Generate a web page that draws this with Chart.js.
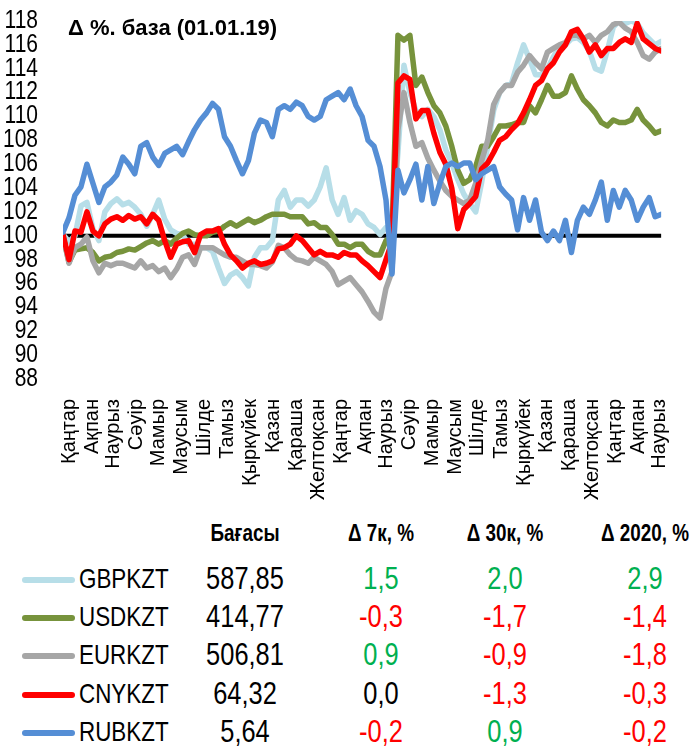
<!DOCTYPE html>
<html>
<head>
<meta charset="utf-8">
<script src="https://cdn.jsdelivr.net/npm/chart.js@4.4.1/dist/chart.umd.min.js"></script>
<style>
body { margin: 0; background: #fff; }
#wrap { position: relative; width: 690px; height: 747px; overflow: hidden; font-family: "Liberation Sans", Arial, sans-serif; }
#fx { position: absolute; left: 0; top: 0; }
#title { position: absolute; left: 68px; top: 15px; font: bold 22px "Liberation Sans", Arial, sans-serif; color: #000; white-space: nowrap; }
.c { position: absolute; white-space: nowrap; transform: translate(-50%, -50%) scaleX(0.82); }
.hd { font-weight: bold; font-size: 23px; color: #000; }
.nm { font-size: 28px; color: #000; transform-origin: left center; transform: translate(0, -50%) scaleX(0.8); }
.num { font-size: 31px; }
.sw { position: absolute; height: 6px; border-radius: 3px; }
</style>
</head>
<body>
<div id="wrap">
  <canvas id="fx" width="690" height="505"></canvas>
  <div id="title">Δ %. база (01.01.19)</div>
</div>
<script>
// ось времени: точка каждые 8 дней с 01.01.2019
const stepDays = 8;
const monthStarts = [0, 31, 59, 90, 120, 151, 181, 212, 243, 273, 304, 334,
  365, 396, 425, 456, 486, 517, 547, 578, 609, 639, 670, 700, 731, 762, 790];
const monthNames = ['Қаңтар', 'Ақпан', 'Наурыз', 'Сәуір', 'Мамыр', 'Маусым', 'Шілде', 'Тамыз',
  'Қыркүйек', 'Қазан', 'Қараша', 'Желтоқсан', 'Қаңтар', 'Ақпан', 'Наурыз', 'Сәуір', 'Мамыр',
  'Маусым', 'Шілде', 'Тамыз', 'Қыркүйек', 'Қазан', 'Қараша', 'Желтоқсан', 'Қаңтар', 'Ақпан', 'Наурыз'];
const yTicks = { min: 88, max: 118, step: 2 };
const baseLevel = 100;

const gbp = [100.1, 99.5, 100.0, 102.5, 102.8, 100.6, 99.6, 102.0, 102.7, 103.1, 102.6, 102.8, 102.4, 101.8, 100.8, 101.8, 103.0, 101.4, 100.5, 100.2,
  100.1, 99.3, 99.3, 99.0, 99.0, 98.7, 97.3, 96.0, 96.7, 97.0, 96.5, 95.8, 98.2, 99.0, 99.0, 99.6, 103.0, 103.8, 102.4, 103.0,
  103.0, 102.5, 103.0, 104.1, 105.7, 103.0, 101.8, 103.2, 101.3, 102.1, 101.8, 101.0, 100.7, 100.1, 100.7, 100.5, 107.0, 114.3, 112.0, 110.5,
  110.0, 110.6, 110.0, 108.9, 107.2, 106.1, 104.7, 103.5, 102.7, 102.0, 104.5, 107.5, 110.5, 112.0, 112.6, 112.8, 114.5, 116.0, 114.8, 113.5,
  113.5, 114.0, 115.0, 115.8, 116.0, 116.5, 116.6, 116.2, 115.5, 114.0, 113.8, 115.5, 117.5, 118.0, 117.8, 118.0, 117.8, 117.0, 116.5, 116.0, 116.3];
const usd = [100.0, 97.8, 98.8, 98.9, 99.0, 98.6, 97.9, 98.2, 98.3, 98.6, 98.7, 98.9, 98.8, 99.1, 99.4, 99.6, 99.3, 99.6, 99.3, 99.8,
  100.2, 100.4, 100.1, 100.0, 100.0, 100.3, 100.4, 100.8, 101.1, 100.8, 101.1, 101.4, 101.1, 101.3, 101.6, 101.8, 101.8, 101.8, 101.6, 101.6,
  101.6, 101.0, 101.1, 100.7, 100.7, 100.1, 99.3, 99.3, 99.0, 99.3, 99.3, 98.7, 98.4, 98.4, 99.6, 100.0, 116.8, 116.4, 116.8, 112.6,
  113.3, 112.0, 110.9, 110.3, 109.2, 107.5, 105.5, 104.4, 104.7, 105.8, 107.5, 107.5, 108.3, 109.2, 109.2, 109.3, 109.5, 109.5, 110.9, 110.3,
  111.4, 112.6, 111.7, 111.7, 112.0, 113.4, 112.3, 111.4, 110.9, 110.3, 109.5, 109.2, 109.7, 109.5, 109.5, 109.7, 110.6, 109.7, 109.2, 108.6, 108.8];
const eur = [100.0, 97.7, 99.0, 99.3, 99.9, 97.9, 96.9, 97.7, 97.5, 97.7, 97.7, 97.5, 97.3, 97.9, 97.3, 97.5, 97.0, 97.3, 96.5, 97.2,
  98.2, 98.4, 97.6, 99.0, 99.0, 99.0, 98.7, 98.4, 98.2, 98.2, 97.9, 97.6, 97.6, 97.5, 97.3, 97.8, 99.2, 99.0, 98.4, 98.0,
  97.9, 97.7, 98.2, 97.9, 97.6, 97.0, 95.9, 96.2, 96.5, 95.9, 95.3, 94.5, 93.6, 93.1, 95.6, 97.0, 108.9, 112.0, 109.5, 107.5,
  107.8, 106.5, 105.5, 104.6, 103.8, 103.3, 103.0, 102.7, 103.0, 104.4, 106.3, 108.0, 111.0, 112.0, 112.6, 112.6, 113.7, 114.3, 115.1, 114.5,
  114.0, 115.4, 115.7, 116.0, 116.2, 116.8, 116.8, 116.5, 116.8, 116.2, 116.8, 117.1, 117.7, 117.9, 117.4, 117.1, 116.2, 115.1, 114.8, 115.4, 115.7];
const cny = [100.1, 98.0, 100.4, 100.3, 102.0, 100.4, 100.0, 101.0, 101.4, 101.6, 101.3, 101.7, 101.4, 101.6, 101.0, 101.8, 101.3, 99.6, 98.2, 99.3,
  99.5, 99.6, 98.6, 100.1, 100.4, 100.4, 100.6, 99.3, 98.4, 97.9, 97.3, 97.7, 97.9, 97.6, 97.7, 97.9, 98.9, 99.0, 99.3, 100.0,
  99.6, 99.0, 98.4, 98.7, 98.4, 98.4, 98.2, 98.6, 98.4, 98.4, 97.9, 97.5, 97.0, 96.5, 98.0, 99.5, 112.8, 113.4, 113.1, 109.8,
  110.5, 110.5, 108.6, 107.0, 106.0, 104.0, 100.6, 102.2, 102.7, 103.3, 105.6, 106.1, 107.0, 108.0, 108.3, 108.9, 109.4, 110.3, 111.4, 112.6,
  113.0, 114.0, 114.5, 115.4, 116.0, 117.1, 117.3, 116.5, 115.4, 116.0, 115.1, 115.7, 115.7, 116.2, 116.5, 116.2, 117.8, 116.5, 116.1, 115.7, 115.5];
const rub = [100.3, 101.5, 103.4, 104.1, 106.0, 104.4, 102.8, 104.1, 104.5, 105.1, 106.6, 106.0, 105.2, 107.5, 107.8, 106.6, 105.9, 106.9, 107.2, 107.5,
  106.8, 107.9, 108.9, 109.7, 110.3, 111.1, 110.6, 108.3, 107.5, 106.3, 105.2, 106.3, 108.6, 109.7, 109.5, 108.3, 110.6, 110.9, 110.6, 111.2,
  110.9, 110.0, 109.7, 110.0, 111.4, 111.7, 112.0, 111.4, 112.3, 110.9, 110.0, 108.0, 107.5, 105.8, 103.0, 96.8, 105.5, 103.6, 104.7, 106.0,
  103.0, 105.8, 102.7, 104.4, 105.8, 106.1, 105.8, 106.1, 106.1, 104.7, 105.2, 105.5, 105.8, 104.1, 103.5, 103.0, 100.5, 103.2, 101.3, 103.0,
  100.3, 99.6, 100.4, 99.6, 101.3, 98.6, 101.3, 102.4, 101.8, 103.0, 104.5, 101.3, 103.8, 102.4, 103.8, 103.0, 101.3, 102.4, 103.2, 101.6, 101.8];

// таблица под графиком
const pairs = ['GBPKZT', 'USDKZT', 'EURKZT', 'CNYKZT', 'RUBKZT'];
const prices = ['587,85', '414,77', '506,81', '64,32', '5,64'];
const chg7 = [1.5, -0.3, 0.9, 0.0, -0.2];
const chg30 = [2.0, -1.7, -0.9, -1.3, 0.9];
const chg2020 = [2.9, -1.4, -1.8, -0.3, -0.2];
const headers = ['Бағасы', 'Δ 7к, %', 'Δ 30к, %', 'Δ 2020, %'];

const colors = ['#B7DEE8', '#77933C', '#A6A6A6', '#FF0000', '#558ED5'];
const series = [gbp, usd, eur, cny, rub];

const toPoints = vals => vals.map((v, i) => ({ x: i * stepDays, y: v }));
const lastDay = (gbp.length - 1) * stepDays;

const datasets = series.map((vals, i) => ({
    label: pairs[i],
    data: toPoints(vals),
    borderColor: colors[i],
    borderWidth: 5.5,
    order: 5 - i
}));
datasets.push({
    label: 'base',
    data: [{ x: 0, y: baseLevel }, { x: lastDay, y: baseLevel }],
    borderColor: '#000',
    borderWidth: 4,
    order: 10
});

// узкие подписи оси Y (нет Arial Narrow - сжимаем обычный шрифт)
const narrowYLabels = {
    id: 'narrowYLabels',
    afterDraw(chart) {
        const s = chart.scales.y;
        const c = chart.ctx;
        c.save();
        c.font = '25px "Liberation Sans", Arial, sans-serif';
        c.fillStyle = '#000';
        c.textAlign = 'right';
        c.textBaseline = 'middle';
        s.ticks.forEach(t => {
            const y = s.getPixelForValue(t.value);
            c.save();
            c.translate(s.right - 25, y);
            c.scale(0.84, 1);
            c.fillText(String(t.value), 0, 0);
            c.restore();
        });
        c.restore();
    }
};

const ctx = document.getElementById('fx').getContext('2d');
const fxChart = new Chart(ctx, {
    type: 'line',
    data: { datasets: datasets },
    plugins: [narrowYLabels],
    options: {
        responsive: false,
        animation: false,
        layout: { padding: { left: 0, right: 27, top: 21, bottom: 0 } },
        plugins: { legend: { display: false }, tooltip: { enabled: false } },
        elements: {
            point: { radius: 0 },
            line: { tension: 0, borderJoinStyle: 'round', borderCapStyle: 'round' }
        },
        scales: {
            x: {
                type: 'linear',
                min: 0,
                max: lastDay,
                grid: { display: false },
                border: { display: false },
                afterBuildTicks: s => { s.ticks = monthStarts.map(v => ({ value: v })); },
                afterFit: s => { s.height = 126; },
                ticks: {
                    autoSkip: false,
                    minRotation: 90,
                    maxRotation: 90,
                    padding: 12,
                    labelOffset: 6,
                    color: '#000',
                    font: { family: 'Liberation Sans', size: 20 },
                    callback: (v, i) => monthNames[i]
                }
            },
            y: {
                min: yTicks.min,
                max: yTicks.max,
                grid: { display: false },
                border: { display: false },
                afterFit: s => { s.width = 63; },
                ticks: {
                    display: false,
                    autoSkip: false,
                    stepSize: yTicks.step
                }
            }
        }
    }
});

// таблица
const wrap = document.getElementById('wrap');
const headY = 533, rowY0 = 579, rowStep = 38.2;
const colX = [245, 381, 505, 645];

function addCell(text, x, y, cls, color) {
    const d = document.createElement('div');
    d.className = 'c ' + cls;
    d.textContent = text;
    d.style.left = x + 'px';
    d.style.top = y + 'px';
    if (color) d.style.color = color;
    wrap.appendChild(d);
}
function fmt(v) { return v.toFixed(1).replace('.', ','); }
function tone(v) { return v > 0 ? '#00B050' : (v < 0 ? '#FF0000' : '#000'); }

headers.forEach((h, i) => addCell(h, colX[i], headY, 'hd'));
pairs.forEach((p, i) => {
    const y = rowY0 + i * rowStep;
    const sw = document.createElement('div');
    sw.className = 'sw';
    sw.style.left = '22px';
    sw.style.width = '53px';
    sw.style.top = (y - 2) + 'px';
    sw.style.background = colors[i];
    wrap.appendChild(sw);
    addCell(p, 79, y, 'nm');
    addCell(prices[i], colX[0], y, 'num', '#000');
    addCell(fmt(chg7[i]), colX[1], y, 'num', tone(chg7[i]));
    addCell(fmt(chg30[i]), colX[2], y, 'num', tone(chg30[i]));
    addCell(fmt(chg2020[i]), colX[3], y, 'num', tone(chg2020[i]));
});
</script>
</body>
</html>
